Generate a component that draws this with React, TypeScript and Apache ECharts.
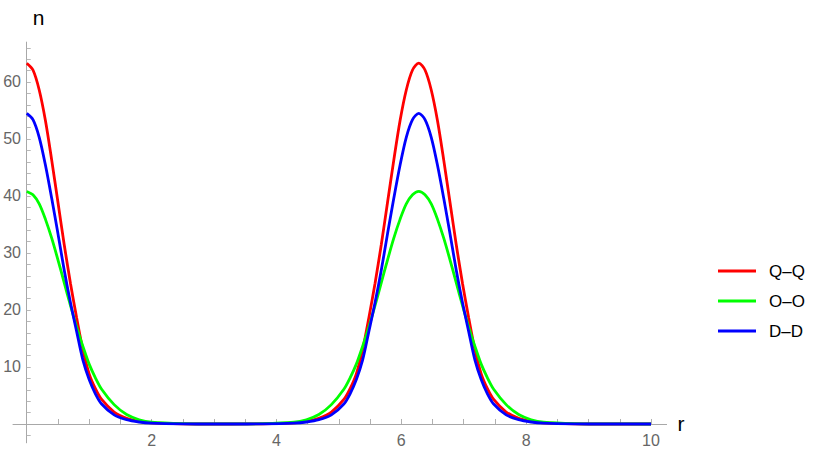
import React, { useEffect, useRef } from "react";
import * as echarts from "echarts";

const rValues = [
  0, 0.1, 0.2, 0.3, 0.4, 0.5, 0.6, 0.7, 0.8, 0.9, 1.0, 1.1, 1.2, 1.4, 1.6, 1.8, 2.0, 2.5, 3.0,
  3.28, 3.78, 4.28, 4.48, 4.68, 4.88, 5.08, 5.18, 5.28, 5.38, 5.48, 5.58, 5.68, 5.78, 5.88, 5.98, 6.08, 6.18, 6.28,
  6.38, 6.48, 6.58, 6.68, 6.78, 6.88, 6.98, 7.08, 7.18, 7.28, 7.38, 7.48, 7.68, 7.88, 8.08, 8.28, 8.78, 9.28, 10.0,
];

const qqValues = [
  63.3, 62.1, 58.6, 53.2, 46.3, 38.9, 31.5, 24.7, 18.6, 13.0, 8.8, 6.2, 4.3, 2.1, 1.0, 0.45, 0.2, 0.03, 0.0,
  0.0, 0.03, 0.2, 0.45, 1.0, 2.1, 4.3, 6.2, 8.8, 13.0, 18.6, 24.7, 31.5, 38.9, 46.3, 53.2, 58.6, 62.1, 63.3,
  62.1, 58.6, 53.2, 46.3, 38.9, 31.5, 24.7, 18.6, 13.0, 8.8, 6.2, 4.3, 2.1, 1.0, 0.45, 0.2, 0.03, 0.0, 0.0,
];

const ooValues = [
  40.8, 40.2, 38.6, 35.9, 32.6, 28.8, 24.8, 20.8, 17.0, 13.6, 10.5, 8.1, 6.1, 3.4, 1.66, 0.75, 0.31, 0.05, 0.01,
  0.01, 0.05, 0.31, 0.75, 1.66, 3.4, 6.1, 8.1, 10.5, 13.6, 17.0, 20.8, 24.8, 28.8, 32.6, 35.9, 38.6, 40.2, 40.8,
  40.2, 38.6, 35.9, 32.6, 28.8, 24.8, 20.8, 17.0, 13.6, 10.5, 8.1, 6.1, 3.4, 1.66, 0.75, 0.31, 0.05, 0.01, 0.0,
];

const ddValues = [
  54.5, 53.4, 50.3, 45.4, 39.6, 33.4, 27.0, 21.3, 16.2, 11.2, 7.8, 5.3, 3.5, 1.6, 0.75, 0.35, 0.15, 0.02, 0.0,
  0.0, 0.02, 0.15, 0.35, 0.75, 1.6, 3.5, 5.3, 7.8, 11.2, 16.2, 21.3, 27.0, 33.4, 39.6, 45.4, 50.3, 53.4, 54.5,
  53.4, 50.3, 45.4, 39.6, 33.4, 27.0, 21.3, 16.2, 11.2, 7.8, 5.3, 3.5, 1.6, 0.75, 0.35, 0.15, 0.02, 0.0, 0.0,
];

const seriesNames = ["Q\u2013Q", "O\u2013O", "D\u2013D"];
const seriesColors = ["#ff0000", "#00ff00", "#0000ff"];

const xLabelValues = [2, 4, 6, 8, 10];
const xTickValues = [0.5, 1, 1.5, 2, 2.5, 3, 3.5, 4, 4.5, 5, 5.5, 6, 6.5, 7, 7.5, 8, 8.5, 9, 9.5, 10];
const yLabelValues = [10, 20, 30, 40, 50, 60];
const yTickValues = [-2, 2, 4, 6, 8, 10, 12, 14, 16, 18, 20, 22, 24, 26, 28, 30, 32, 34, 36, 38, 40, 42, 44, 46, 48, 50, 52, 54, 56, 58, 60, 62, 64, 66];

const FONT = "Liberation Sans, Arial, sans-serif";

export default function App() {
  const ref = useRef<HTMLDivElement>(null);
  useEffect(() => {
    if (!ref.current) return;
    const chart = echarts.init(ref.current, null, { renderer: "svg" });
    const allSeries = [qqValues, ooValues, ddValues];
    chart.setOption({
      animation: false,
      backgroundColor: "#ffffff",
      grid: {
        left: 13,
        right: 830 - 666.6,
        top: 42.1,
        bottom: 459 - 442.8,
        containLabel: false,
        outerBoundsMode: "none",
      },
      legend: {
        orient: "vertical",
        left: 713,
        top: 256,
        icon: "rect",
        itemWidth: 38,
        itemHeight: 3,
        itemGap: 10,
        textStyle: { fontSize: 17, color: "#000", fontFamily: FONT, lineHeight: 20, padding: [0, 0, 0, 8] },
        data: seriesNames,
      },
      xAxis: {
        type: "value",
        min: -0.22,
        max: 10.25,
        name: "r",
        nameLocation: "end",
        nameGap: 11,
        nameTextStyle: { fontSize: 21, color: "#000", fontFamily: FONT, verticalAlign: "middle", padding: [6, 0, 0, 0] },
        axisLine: { onZero: true, lineStyle: { color: "#a8a8a8", width: 1 } },
        axisTick: { show: true, inside: true, length: 5, customValues: xTickValues, lineStyle: { color: "#b0b0b0" } },
        axisLabel: { customValues: xLabelValues, color: "#666", fontSize: 16, margin: -10, fontFamily: FONT, hideOverlap: false },
        splitLine: { show: false },
      },
      yAxis: {
        type: "value",
        min: -3.3,
        max: 67,
        name: "n",
        nameLocation: "end",
        nameGap: 14,
        nameTextStyle: { fontSize: 21, color: "#000", fontFamily: FONT, align: "left", padding: [0, 0, 0, 6] },
        axisLine: { onZero: true, lineStyle: { color: "#a8a8a8", width: 1 } },
        axisTick: { show: true, inside: true, length: 4, customValues: yTickValues, lineStyle: { color: "#b8b8b8" } },
        axisLabel: { customValues: yLabelValues, color: "#666", fontSize: 16, margin: -8, fontFamily: FONT, hideOverlap: false },
        splitLine: { show: false },
      },
      series: seriesNames.map((name, i) => ({
        name,
        type: "line",
        data: rValues.map((r, j) => [r, allSeries[i][j]]),
        smooth: 0.3,
        showSymbol: false,
        symbol: "none",
        lineStyle: { color: seriesColors[i], width: 2.8 },
        itemStyle: { color: seriesColors[i] },
        z: 2 + i,
      })),
    });
    return () => chart.dispose();
  }, []);
  return <div ref={ref} style={{ position: "fixed", left: 0, top: 0, width: 830, height: 459 }} />;
}
